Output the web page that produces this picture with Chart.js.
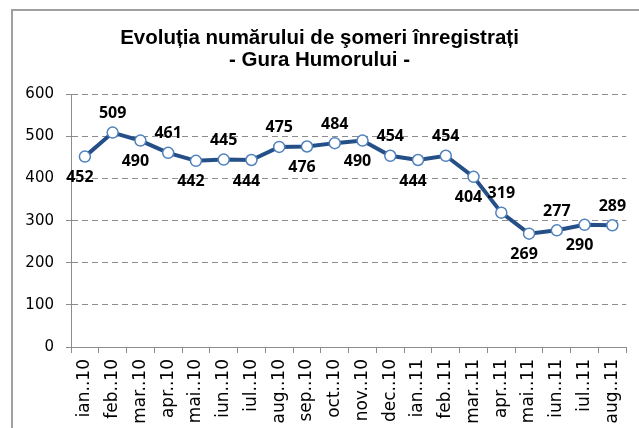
<!DOCTYPE html>
<html>
<head>
<meta charset="utf-8">
<script src="https://cdn.jsdelivr.net/npm/chart.js@4/dist/chart.umd.min.js"></script>
<style>
  html, body { margin: 0; padding: 0; background: #fff; }
  #wrap { position: relative; width: 639px; height: 428px; overflow: hidden; }
  #frame { position: absolute; left: 11px; top: 9px; width: 700px; height: 500px; border: 2px solid #a0a0a0; box-sizing: border-box; }
  canvas { position: absolute; left: 0; top: 0; }
</style>
</head>
<body>
<div id="wrap">
  <div id="frame"></div>
  <canvas id="somChart" width="639" height="428"></canvas>
</div>
<script>
// date
const months = [
  "ian..10", "feb..10", "mar..10", "apr..10", "mai..10", "iun..10", "iul..10",
  "aug..10", "sep..10", "oct..10", "nov..10", "dec..10", "ian..11", "feb..11",
  "mar..11", "apr..11", "mai..11", "iun..11", "iul..11", "aug..11"
];
const someri = [452, 509, 490, 461, 442, 445, 444, 475, 476, 484, 490, 454, 444, 454, 404, 319, 269, 277, 290, 289];
const yTicks = [0, 100, 200, 300, 400, 500, 600];
const titleLines = ["Evoluția numărului de şomeri înregistrați", "- Gura Humorului -"];

const AXIS_LEFT = 71;
const AXIS_BOTTOM = 347;

// etichete de valoare, alternativ sub / deasupra punctului
const valueLabels = {
  id: "valueLabels",
  afterDatasetsDraw(chart) {
    const ctx = chart.ctx;
    const meta = chart.getDatasetMeta(0);
    ctx.save();
    ctx.font = "bold 16px 'Open Sans'";
    ctx.fillStyle = "#000";
    ctx.textAlign = "center";
    ctx.textBaseline = "middle";
    meta.data.forEach(function (pt, i) {
      const below = i % 2 === 0;
      const dx = below ? -5 : 0;
      const dy = below ? 21 : -19;
      ctx.fillText(String(someri[i]), pt.x + dx, pt.y + dy);
    });
    ctx.restore();
  },
};

const ctx = document.getElementById("somChart").getContext("2d");
new Chart(ctx, {
  type: "line",
  data: {
    labels: months,
    datasets: [
      {
        data: someri,
        borderColor: "#254f87",
        borderWidth: 4,
        pointBackgroundColor: "#ffffff",
        pointBorderColor: "#4f81bd",
        pointBorderWidth: 1.5,
        pointRadius: 5.5,
        tension: 0,
      },
    ],
  },
  options: {
    responsive: false,
    animation: false,
    layout: { padding: { left: 10, right: 10, top: 0, bottom: 0 } },
    plugins: {
      legend: { display: false },
      tooltip: { enabled: false },
      title: {
        display: true,
        text: titleLines,
        color: "#000",
        font: { family: "'Liberation Sans', Arial", size: 20.5, weight: "bold", lineHeight: 1.08 },
        padding: { top: 27, bottom: 23 },
      },
    },
    scales: {
      x: {
        offset: true,
        grid: {
          offset: true,
          drawOnChartArea: false,
          drawTicks: true,
          tickLength: 6,
          color: "#8c8c8c",
        },
        border: { color: "#8c8c8c" },
        ticks: {
          autoSkip: false,
          maxRotation: 90,
          minRotation: 90,
          padding: 6,
          color: "#000",
          font: { family: "'DejaVu Sans'", size: 17 },
        },
        afterFit(scale) {
          scale.height = 428 - AXIS_BOTTOM;
        },
      },
      y: {
        min: 0,
        max: 600,
        afterBuildTicks(scale) {
          scale.ticks = yTicks.map((v) => ({ value: v }));
        },
        grid: {
          color: "#8c8c8c",
          tickLength: 5,
          tickBorderDash: [],
        },
        border: { color: "#8c8c8c", dash: [6, 4] },
        ticks: {
          padding: 12,
          color: "#000",
          font: { family: "'DejaVu Sans'", size: 15 },
        },
        afterFit(scale) {
          scale.width = AXIS_LEFT - 10;
        },
      },
    },
  },
  plugins: [valueLabels],
});
</script>
</body>
</html>
